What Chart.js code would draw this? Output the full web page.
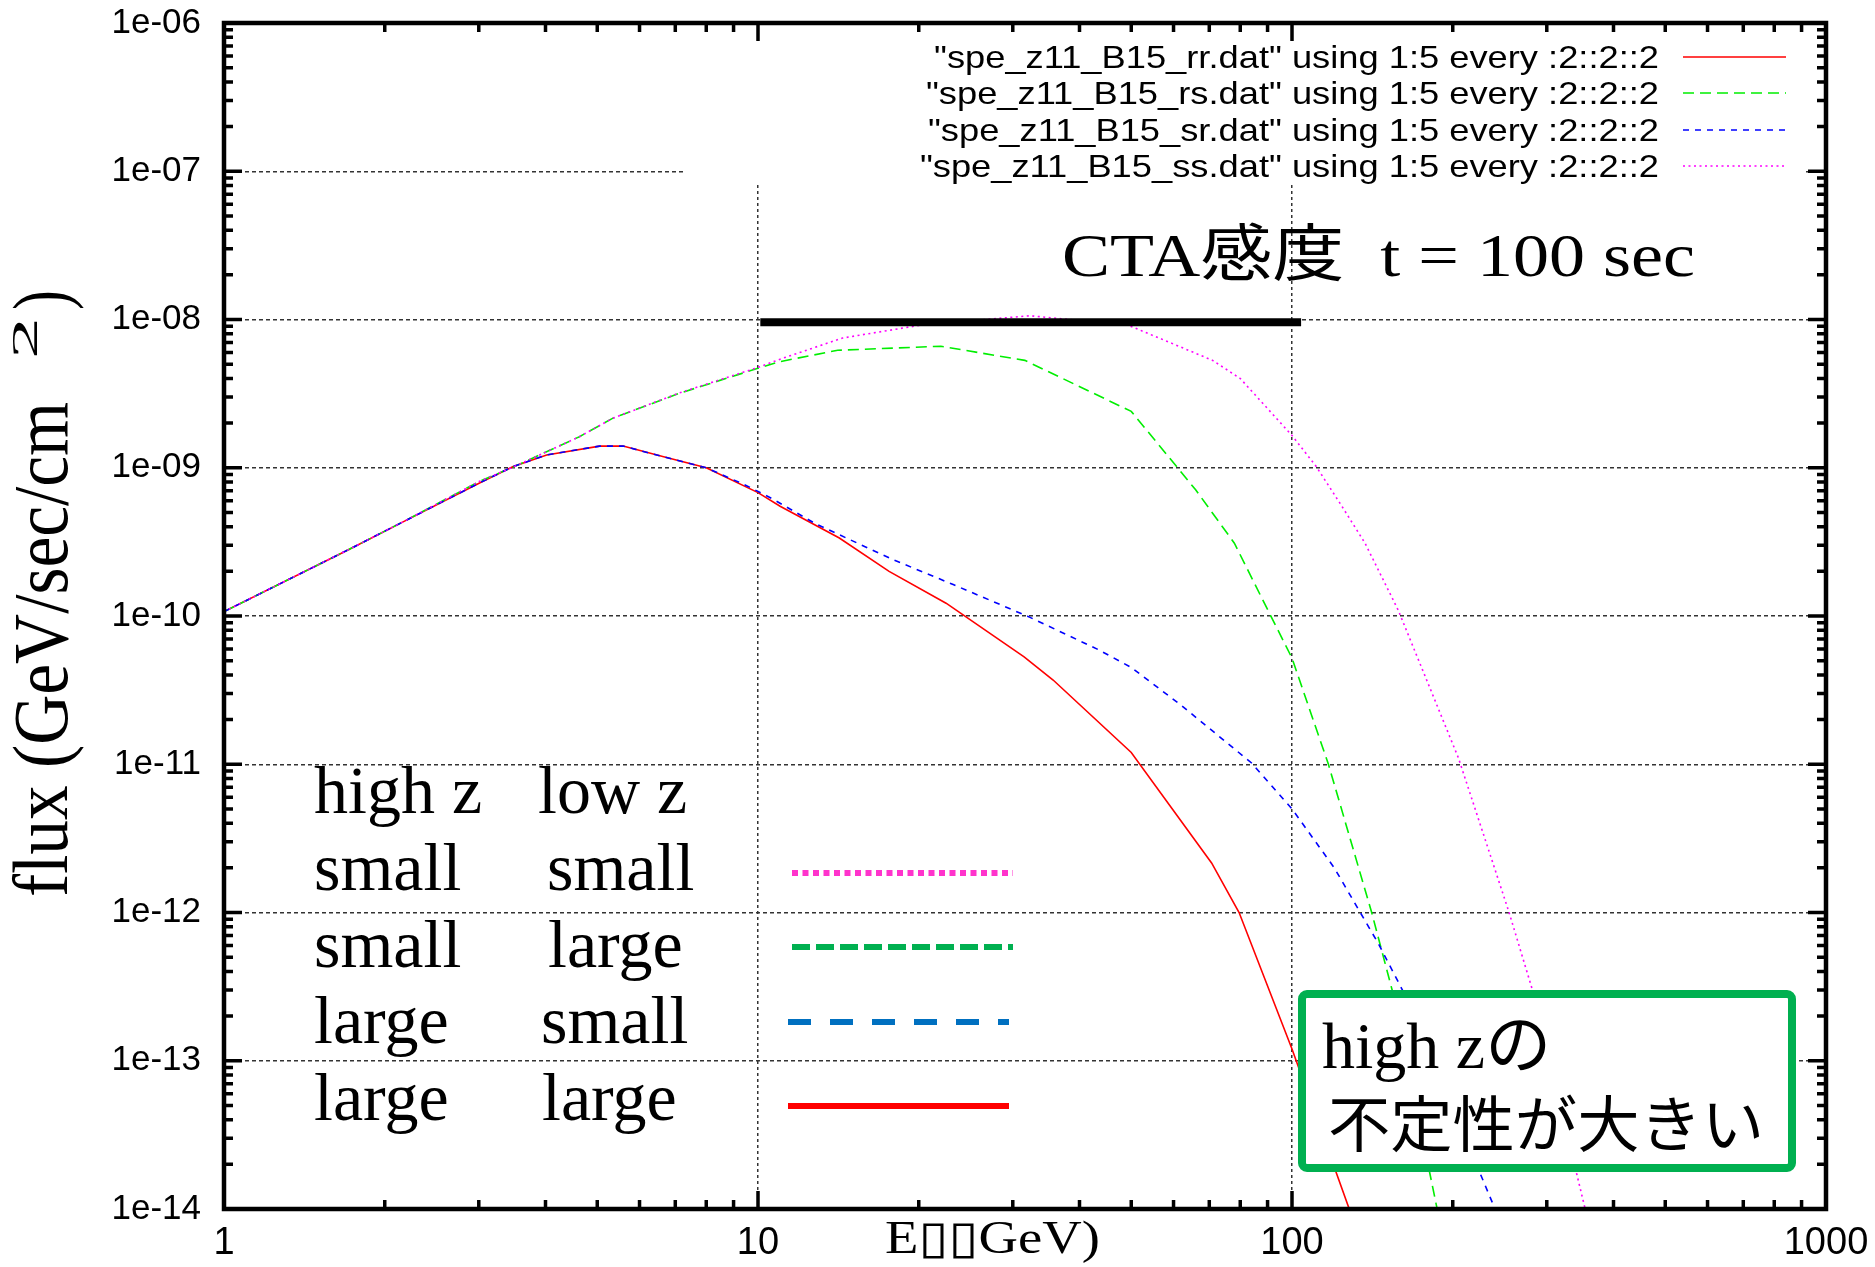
<!DOCTYPE html>
<html>
<head>
<meta charset="utf-8">
<title>spe_z11_B15</title>
<script src="https://cdn.jsdelivr.net/npm/chart.js@4.4.0/dist/chart.umd.min.js"></script>
<style>
  html, body { margin: 0; padding: 0; background: #fff; }
  #wrap { width: 1875px; height: 1267px; }
</style>
</head>
<body>
<div id="wrap"><canvas id="spec" width="1875" height="1267"></canvas></div>
<script>
// E (GeV) and flux (GeV/sec/cm^2), one pair of arrays per data file
const rrEnergy = [1, 1.71, 2.16, 3.01, 3.48, 4.02, 5.05, 5.59, 6.63, 8.0, 10.0, 11.0, 14.2, 17.6, 22.5, 31.5, 35.7, 50, 70.7, 79.6, 100, 128, 135];
const rrFlux = [1.07e-10, 2.8e-10, 4.3e-10, 7.9e-10, 1.02e-9, 1.22e-9, 1.40e-9, 1.40e-9, 1.19e-9, 1.0e-9, 6.8e-10, 5.5e-10, 3.36e-10, 2.0e-10, 1.22e-10, 5.3e-11, 3.7e-11, 1.2e-11, 2.16e-12, 1.0e-12, 1.2e-13, 1.0e-14, 5e-15];

const rsEnergy = [1, 1.71, 2.16, 3.01, 3.48, 4.63, 5.35, 7.13, 10, 11, 14.1, 22, 31.6, 50, 66, 78, 88, 100, 117, 141, 154, 187, 200];
const rsFlux = [1.07e-10, 2.8e-10, 4.3e-10, 8.1e-10, 1.01e-9, 1.62e-9, 2.16e-9, 3.18e-9, 4.69e-9, 5.2e-9, 6.2e-9, 6.6e-9, 5.3e-9, 2.4e-9, 7.1e-10, 3.1e-10, 1.3e-10, 5.2e-11, 1.0e-11, 1.0e-12, 3.0e-13, 1.0e-14, 4e-15];

const srEnergy = [1, 1.71, 2.16, 3.01, 3.48, 4.02, 5.05, 5.59, 6.63, 8.0, 9.5, 10.66, 12.8, 17.9, 23.2, 32.1, 43.5, 50, 62, 84, 100, 120, 145, 161, 200, 240, 260];
const srFlux = [1.07e-10, 2.8e-10, 4.3e-10, 7.9e-10, 1.02e-9, 1.22e-9, 1.40e-9, 1.40e-9, 1.19e-9, 1.0e-9, 7.6e-10, 6.15e-10, 4.2e-10, 2.4e-10, 1.63e-10, 9.9e-11, 5.9e-11, 4.5e-11, 2.5e-11, 1.02e-11, 5.0e-12, 2.0e-12, 6.2e-13, 3.0e-13, 4.8e-14, 1.0e-14, 4e-15];

const ssEnergy = [1, 1.71, 2.16, 3.01, 3.48, 4.63, 5.35, 7.13, 10, 11, 14.4, 20.3, 32.3, 49.2, 71, 80, 100, 111, 124, 137, 158, 205, 255, 282, 354, 380];
const ssFlux = [1.07e-10, 2.8e-10, 4.3e-10, 8.1e-10, 1.01e-9, 1.62e-9, 2.16e-9, 3.2e-9, 4.75e-9, 5.4e-9, 7.5e-9, 9.2e-9, 1.06e-8, 9.2e-9, 5.3e-9, 4.0e-9, 1.65e-9, 1.02e-9, 5.5e-10, 3.1e-10, 1.1e-10, 1.1e-11, 1.0e-12, 3.0e-13, 1.0e-14, 4e-15];

// CTA sensitivity for t = 100 sec
const ctaEnergy = [10.1, 104];
const ctaFlux = [9.6e-9, 9.6e-9];

const seriesLabels = [
  '"spe_z11_B15_rr.dat" using 1:5 every :2::2::2',
  '"spe_z11_B15_rs.dat" using 1:5 every :2::2::2',
  '"spe_z11_B15_sr.dat" using 1:5 every :2::2::2',
  '"spe_z11_B15_ss.dat" using 1:5 every :2::2::2'
];
const xTickLabels = ['1', '10', '100', '1000'];
const yTickLabels = ['1e-14', '1e-13', '1e-12', '1e-11', '1e-10', '1e-09', '1e-08', '1e-07', '1e-06'];

const isDecade = v => {
  const l = Math.log10(v);
  return Math.abs(l - Math.round(l)) < 1e-6;
};

// gnuplot style: every mantissa 1..9 gets a tick, only decades get labels/grid
function logTicks(minExp, maxExp) {
  const out = [];
  for (let e = minExp; e < maxExp; e++) {
    for (let m = 1; m <= 9; m++) out.push({ value: m * Math.pow(10, e) });
  }
  out.push({ value: Math.pow(10, maxExp) });
  return out;
}

function series(label, energy, flux, color, dash, order) {
  return {
    label,
    data: energy.map((e, i) => ({ x: e, y: flux[i] })),
    borderColor: color,
    borderWidth: 1.6,
    borderDash: dash,
    pointRadius: 0,
    tension: 0,
    fill: false,
    order
  };
}

// draw text squeezed/stretched horizontally to a given width
function fitText(ctx, text, x, y, width) {
  const sx = width / ctx.measureText(text).width;
  ctx.save();
  ctx.translate(x, y);
  ctx.scale(sx, 1);
  ctx.textAlign = 'left';
  ctx.fillText(text, 0, 0);
  ctx.restore();
}

function hline(ctx, x0, x1, y, color, width, dash) {
  ctx.save();
  ctx.beginPath();
  ctx.strokeStyle = color;
  ctx.lineWidth = width;
  ctx.setLineDash(dash);
  ctx.moveTo(x0, y);
  ctx.lineTo(x1, y);
  ctx.stroke();
  ctx.restore();
}

const decorations = {
  id: 'decorations',
  beforeDatasetsDraw(chart) {
    // key area is opaque, hides the grid behind it
    const { ctx, chartArea: a } = chart;
    ctx.save();
    ctx.fillStyle = '#fff';
    ctx.fillRect(683, a.top + 3, 1804 - 683, 182 - a.top - 3);
    ctx.restore();
  },
  afterDatasetsDraw(chart) {
    const ctx = chart.ctx;
    ctx.save();
    ctx.fillStyle = '#000';
    ctx.textBaseline = 'alphabetic';

    // key, right aligned text with the line sample after it
    const keyed = chart.data.datasets.filter(d => seriesLabels.includes(d.label));
    const rows = [57, 93, 130, 166];
    ctx.font = '32px "Liberation Sans", Arial, sans-serif';
    const sx = 725 / ctx.measureText(keyed[0].label).width;
    keyed.forEach((ds, i) => {
      const w = ctx.measureText(ds.label).width * sx;
      fitText(ctx, ds.label, 1659 - w, rows[i] + 11, w);
      hline(ctx, 1683, 1786, rows[i], ds.borderColor, ds.borderWidth, ds.borderDash || []);
    });

    // sensitivity caption
    ctx.font = '62px "Liberation Serif", "Noto Sans CJK JP", serif';
    fitText(ctx, 'CTA感度  t = 100 sec', 1062, 276, 633);

    // EBL / B-field table
    ctx.font = '68px "Liberation Serif", serif';
    const table = [
      ['high z', 'low z', 813],
      ['small', 'small', 890],
      ['small', 'large', 967],
      ['large', 'small', 1043],
      ['large', 'large', 1120]
    ];
    const col2 = [538, 547, 548, 541, 542];
    table.forEach((r, i) => {
      ctx.fillText(r[0], 314, r[2]);
      ctx.fillText(r[1], col2[i], r[2]);
    });
    hline(ctx, 792, 1013, 873, '#ff33cc', 6, [6, 4.5]);
    hline(ctx, 792, 1013, 947, '#00b050', 6, [18, 6]);
    hline(ctx, 788, 1009, 1022, '#0070c0', 6, [23, 19]);
    hline(ctx, 788, 1009, 1106, '#ff0000', 6, []);

    // boxed note
    ctx.beginPath();
    ctx.roundRect(1302, 994, 490, 174, 5);
    ctx.fillStyle = '#fff';
    ctx.fill();
    ctx.lineWidth = 8;
    ctx.strokeStyle = '#00b050';
    ctx.stroke();
    ctx.fillStyle = '#000';
    ctx.font = '66px "Liberation Serif", "Noto Sans CJK JP", serif';
    ctx.fillText('high zの', 1322, 1068);
    ctx.font = '61px "Noto Sans CJK JP", sans-serif';
    fitText(ctx, '不定性が大きい', 1328, 1147, 436);

    // axis titles
    ctx.font = '46px "Liberation Serif", "DejaVu Sans", serif';
    fitText(ctx, 'E\u25AF\u25AFGeV)', 885, 1253, 215);

    ctx.translate(67, 897);
    ctx.rotate(-Math.PI / 2);
    ctx.font = '78px "Liberation Serif", serif';
    fitText(ctx, 'flux (GeV/sec/cm', 0, 0, 495);
    ctx.font = '36px "Liberation Serif", serif';
    fitText(ctx, '2', 538, -30, 42);
    ctx.font = '78px "Liberation Serif", serif';
    fitText(ctx, ')', 587, 0, 20);
    ctx.restore();
  },
  afterDraw(chart) {
    // inward ticks on all four sides, then the frame
    const { ctx, chartArea: a, scales: { x, y } } = chart;
    ctx.save();
    ctx.strokeStyle = '#000';
    ctx.lineWidth = 3.5;
    ctx.setLineDash([]);
    ctx.beginPath();
    x.ticks.forEach(t => {
      const px = x.getPixelForValue(t.value);
      const len = isDecade(t.value) ? 18 : 9;
      ctx.moveTo(px, a.bottom); ctx.lineTo(px, a.bottom - len);
      ctx.moveTo(px, a.top); ctx.lineTo(px, a.top + len);
    });
    y.ticks.forEach(t => {
      const py = y.getPixelForValue(t.value);
      const len = isDecade(t.value) ? 18 : 9;
      ctx.moveTo(a.left, py); ctx.lineTo(a.left + len, py);
      ctx.moveTo(a.right, py); ctx.lineTo(a.right - len, py);
    });
    ctx.stroke();
    ctx.lineWidth = 4.5;
    ctx.strokeRect(a.left, a.top, a.right - a.left, a.bottom - a.top);
    ctx.restore();
  }
};

const gridColor = c => {
  const v = c.tick && c.tick.value;
  return v && isDecade(v) ? '#333' : 'rgba(0,0,0,0)';
};

new Chart(document.getElementById('spec'), {
  type: 'line',
  data: {
    datasets: [
      series(seriesLabels[0], rrEnergy, rrFlux, '#ff0000', [], 4),
      series(seriesLabels[1], rsEnergy, rsFlux, '#00ee00', [11, 6], 3),
      series(seriesLabels[2], srEnergy, srFlux, '#0000ff', [6, 6], 2),
      series(seriesLabels[3], ssEnergy, ssFlux, '#ff00ff', [2, 3.5], 1),
      {
        label: 'CTA',
        data: ctaEnergy.map((e, i) => ({ x: e, y: ctaFlux[i] })),
        borderColor: '#000',
        borderWidth: 8,
        borderCapStyle: 'butt',
        pointRadius: 0,
        order: 0
      }
    ]
  },
  options: {
    responsive: false,
    animation: false,
    devicePixelRatio: 1,
    layout: { padding: { top: 23, right: 49, left: 0, bottom: 0 } },
    plugins: { legend: { display: false }, tooltip: { enabled: false } },
    scales: {
      x: {
        type: 'logarithmic',
        min: 1,
        max: 1000,
        afterBuildTicks: s => { s.ticks = logTicks(0, 3); },
        afterFit: s => {
          s.height = 58;
          s.paddingLeft = 0;
          s.paddingRight = 0;
        },
        ticks: {
          autoSkip: false,
          maxRotation: 0,
          padding: 12,
          color: '#000',
          font: { family: '"Liberation Sans", Arial, sans-serif', size: 38 },
          callback: v => isDecade(v) ? xTickLabels[Math.round(Math.log10(v))] : ''
        },
        grid: { drawTicks: false, color: gridColor, lineWidth: 1.5 },
        border: { display: false, dash: [3, 3] }
      },
      y: {
        type: 'logarithmic',
        min: 1e-14,
        max: 1e-6,
        afterBuildTicks: s => { s.ticks = logTicks(-14, -6); },
        afterFit: s => {
          s.width = 224;
          s.paddingTop = 0;
          s.paddingBottom = 0;
        },
        ticks: {
          autoSkip: false,
          padding: 23,
          color: '#000',
          font: { family: '"Liberation Sans", Arial, sans-serif', size: 35 },
          callback: v => isDecade(v) ? yTickLabels[Math.round(Math.log10(v)) + 14] : ''
        },
        grid: { drawTicks: false, color: gridColor, lineWidth: 1.5 },
        border: { display: false, dash: [4, 3] }
      }
    }
  },
  plugins: [decorations]
});
</script>
</body>
</html>
